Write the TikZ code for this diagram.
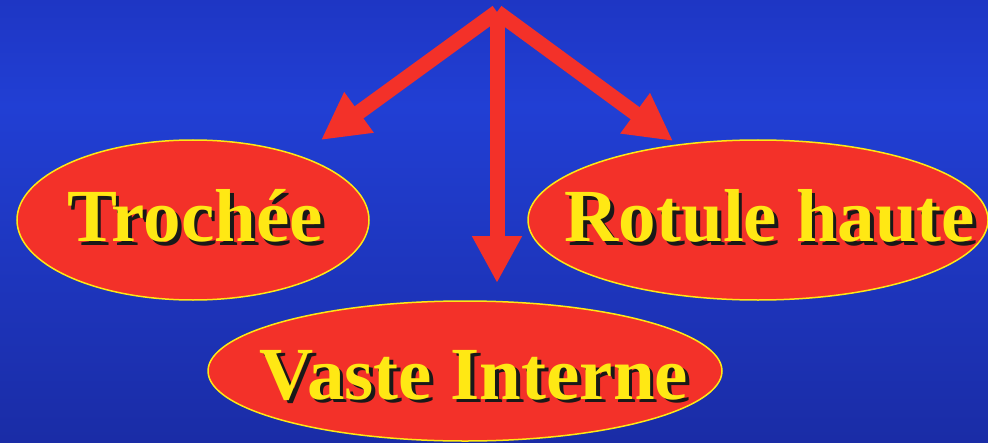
\documentclass[tikz,border=0pt]{standalone}
\usepackage{fontspec}
\setmainfont{Liberation Serif}
\usetikzlibrary{shapes.geometric,arrows.meta}
\definecolor{tred}{RGB}{243,49,41}
\definecolor{tyel}{RGB}{255,232,20}
\definecolor{bgtop}{RGB}{30,54,196}
\definecolor{bgmid}{RGB}{33,63,212}
\definecolor{bgbot}{RGB}{26,44,166}
\newcommand{\shadowtxt}[1]{\rlap{\hspace{1.8pt}\raisebox{-1.8pt}{\textcolor{black!90}{#1}}}#1}

\begin{document}
\begin{tikzpicture}[x=0.5pt,y=-0.5pt,>={Triangle[length=23.5pt,width=23.5pt]},
  blob/.style={ellipse,fill=tred,draw=tyel,line width=0.75pt,inner sep=0pt},
  word/.style={text=tyel,inner sep=0pt,font=\fontsize{37.5}{42}\selectfont\bfseries},
  arr/.style={->,draw=tred,line width=7.5pt}]
  \useasboundingbox (0,0) rectangle (988,443);
  \shade[top color=bgtop, bottom color=bgmid] (0,0) rectangle (988,106);
  \shade[top color=bgmid, bottom color=bgbot] (0,105) rectangle (988,443);
  \node[blob,minimum width=176pt,minimum height=80pt] (troch) at (193,220) {};
  \node[blob,minimum width=230pt,minimum height=80pt] (rotule) at (758,220) {};
  \node[blob,minimum width=257pt,minimum height=70pt] (vaste) at (465,371) {};
  \node[word] (trochtxt) at (195,218) {\shadowtxt{Trochée}};
  \node[word] (rotuletxt) at (770,218) {\shadowtxt{Rotule haute}};
  \node[word] (vastetxt) at (474,377) {\shadowtxt{Vaste Interne}};
  \coordinate (apex) at (497,12);
  \coordinate (tipl) at (321,140); \coordinate (tipr) at (673,141); \coordinate (tipb) at (497,283);
  \draw[arr] (apex) -- (tipl); \draw[arr] (apex) -- (tipr); \draw[arr] (apex) -- (tipb);
\end{tikzpicture}
\end{document}
